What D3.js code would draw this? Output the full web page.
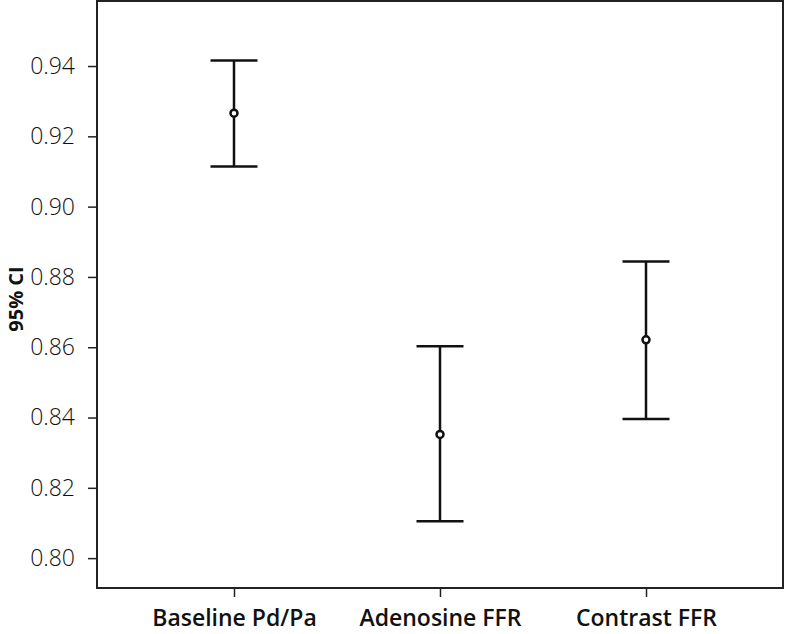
<!DOCTYPE html>
<html>
<head>
<meta charset="utf-8">
<script src="https://cdn.jsdelivr.net/npm/d3@7"></script>
<style>
  body { margin: 0; background: #fff; }
  text { font-family: "Open Sans", "Noto Sans", sans-serif; fill: #111; }
</style>
</head>
<body>
<script>
// groups and their 95% CI
var groups = ["Baseline Pd/Pa", "Adenosine FFR", "Contrast FFR"];
var means  = [0.9266, 0.8352, 0.8621];
var lower  = [0.9114, 0.8105, 0.8396];
var upper  = [0.9416, 0.8603, 0.8844];
var yTicks = [0.80, 0.82, 0.84, 0.86, 0.88, 0.90, 0.92, 0.94];

var width = 785, height = 634;
var margin = {left: 97, right: 783, top: 1, bottom: 588};

var svg = d3.select("body").append("svg")
    .attr("width", width)
    .attr("height", height);

var x = d3.scalePoint()
    .domain(groups)
    .range([margin.left, margin.right])
    .padding(0.665);

var y = d3.scaleLinear()
    .domain([0.7915, 0.9585])
    .range([margin.bottom, margin.top]);

// frame
svg.append("rect")
    .attr("x", margin.left)
    .attr("y", margin.top)
    .attr("width", margin.right - margin.left)
    .attr("height", margin.bottom - margin.top)
    .attr("fill", "none")
    .attr("stroke", "#222")
    .attr("stroke-width", 2);

// y axis
var yAxis = svg.append("g")
    .attr("transform", "translate(" + margin.left + ",0)")
    .call(d3.axisLeft(y).tickValues(yTicks).tickFormat(d3.format(".2f")).tickSize(9).tickPadding(13));
yAxis.select(".domain").remove();
yAxis.selectAll("line").attr("stroke", "#222").attr("stroke-width", 1.5);
yAxis.selectAll("text")
    .style("font-size", "23px")
    .style("font-weight", 300)
    .attr("fill", "#222");

// x axis
var xAxis = svg.append("g")
    .attr("transform", "translate(0," + margin.bottom + ")")
    .call(d3.axisBottom(x).tickSize(9).tickPadding(13));
xAxis.select(".domain").remove();
xAxis.selectAll("line").attr("stroke", "#222").attr("stroke-width", 1.5);
xAxis.selectAll("text")
    .style("font-size", "23px")
    .style("font-weight", 600)
    .attr("fill", "#111");

// y label
svg.append("text")
    .attr("transform", "translate(23,299) rotate(-90)")
    .attr("text-anchor", "middle")
    .style("font-size", "20px")
    .style("font-weight", 700)
    .text("95% CI");

// error bars
var bars = svg.append("g")
    .selectAll("g")
    .data(groups)
    .enter()
    .append("g");

var cap = 23.5;

bars.append("line")
    .attr("x1", d => x(d))
    .attr("x2", d => x(d))
    .attr("y1", (d, i) => y(upper[i]))
    .attr("y2", (d, i) => y(lower[i]))
    .attr("stroke", "#111")
    .attr("stroke-width", 2.5);

bars.append("line")
    .attr("x1", d => x(d) - cap)
    .attr("x2", d => x(d) + cap)
    .attr("y1", (d, i) => y(upper[i]))
    .attr("y2", (d, i) => y(upper[i]))
    .attr("stroke", "#111")
    .attr("stroke-width", 2.5);

bars.append("line")
    .attr("x1", d => x(d) - cap)
    .attr("x2", d => x(d) + cap)
    .attr("y1", (d, i) => y(lower[i]))
    .attr("y2", (d, i) => y(lower[i]))
    .attr("stroke", "#111")
    .attr("stroke-width", 2.5);

bars.append("circle")
    .attr("cx", d => x(d))
    .attr("cy", (d, i) => y(means[i]))
    .attr("r", 3.5)
    .attr("fill", "#fff")
    .attr("stroke", "#111")
    .attr("stroke-width", 2.5);
</script>
</body>
</html>
